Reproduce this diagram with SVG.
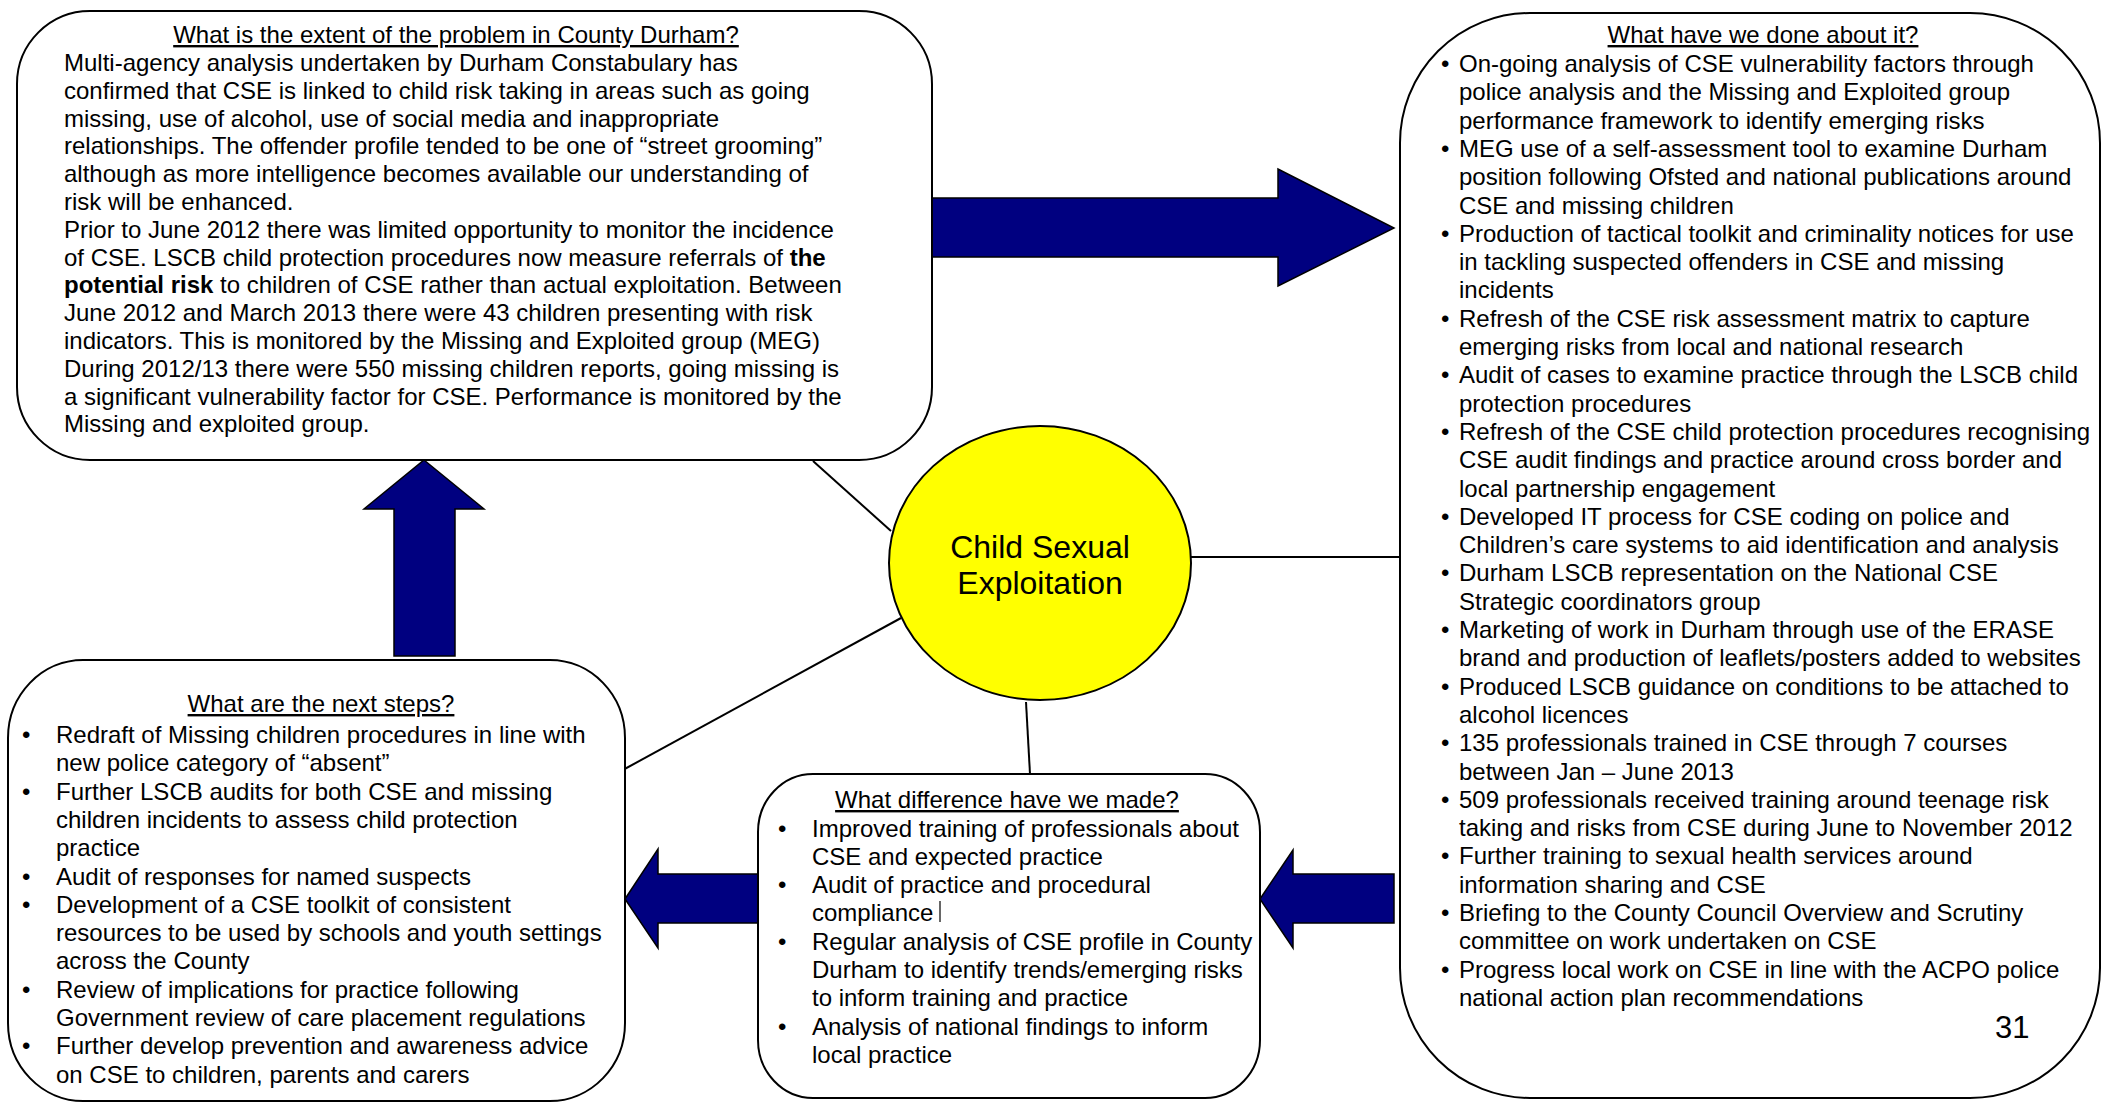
<svg xmlns="http://www.w3.org/2000/svg" width="2102" height="1104" viewBox="0 0 2102 1104">
<style>
  .box { fill: #ffffff; stroke: #000000; stroke-width: 2; }
  .t { font-family: "Liberation Sans", Arial, sans-serif; font-size: 24px; fill: #000000; }
  .h { text-decoration: underline; text-anchor: middle; }
  .arrow { fill: #000080; stroke: #000000; stroke-width: 1.5; stroke-linejoin: miter; }
  .conn { fill: none; stroke: #000000; stroke-width: 2; }
  .b { font-weight: bold; }
</style>
<rect x="0" y="0" width="2102" height="1104" fill="#ffffff"/>

<g id="connectors">
  <line class="conn" x1="813" y1="461" x2="891" y2="531"/>
  <line class="conn" x1="1191" y1="557" x2="1400" y2="557"/>
  <line class="conn" x1="621" y1="771" x2="901" y2="618"/>
  <line class="conn" x1="1026" y1="702" x2="1030" y2="774"/>
  <polygon class="arrow" points="932,198 1278,198 1278,169 1394,228 1278,286 1278,257 932,257"/>
  <polygon class="arrow" points="424,460 484,509 455,509 455,656 394,656 394,509 364,509"/>
  <polygon class="arrow" points="625,899 658,849 658,874 758,874 758,923 658,923 658,948"/>
  <polygon class="arrow" points="1260,899 1293,850 1293,874 1394,874 1394,923 1293,923 1293,948"/>
</g>

<g id="extent">
  <rect class="box" x="17" y="11" width="915" height="449" rx="73" ry="73"/>
  <text class="t h" x="456" y="43">What is the extent of the problem in County Durham?</text>
  <g class="t">
    <text x="64" y="71">Multi-agency analysis undertaken by Durham Constabulary has</text>
    <text x="64" y="98.8">confirmed that CSE is linked to child risk taking in areas such as going</text>
    <text x="64" y="126.6">missing, use of alcohol, use of social media and inappropriate</text>
    <text x="64" y="154.4">relationships. The offender profile tended to be one of “street grooming”</text>
    <text x="64" y="182.2">although as more intelligence becomes available our understanding of</text>
    <text x="64" y="210">risk will be enhanced.</text>
    <text x="64" y="237.8">Prior to June 2012 there was limited opportunity to monitor the incidence</text>
    <text x="64" y="265.6">of CSE. LSCB child protection procedures now measure referrals of <tspan class="b">the</tspan></text>
    <text x="64" y="293.4"><tspan class="b">potential risk</tspan> to children of CSE rather than actual exploitation. Between</text>
    <text x="64" y="321.2">June 2012 and March 2013 there were 43 children presenting with risk</text>
    <text x="64" y="349">indicators. This is monitored by the Missing and Exploited group (MEG)</text>
    <text x="64" y="376.8">During 2012/13 there were 550 missing children reports, going missing is</text>
    <text x="64" y="404.6">a significant vulnerability factor for CSE. Performance is monitored by the</text>
    <text x="64" y="432.4">Missing and exploited group.</text>
  </g>
</g>

<g id="done">
  <rect class="box" x="1400" y="13" width="700" height="1085" rx="130" ry="130"/>
  <text class="t h" x="1763" y="43">What have we done about it?</text>
  <g class="t">
    <text x="1441" y="72">•</text><text x="1459" y="72">On-going analysis of CSE vulnerability factors through</text>
    <text x="1459" y="100.3">police analysis and the Missing and Exploited group</text>
    <text x="1459" y="128.6">performance framework to identify emerging risks</text>
    <text x="1441" y="156.9">•</text><text x="1459" y="156.9">MEG use of a self-assessment tool to examine Durham</text>
    <text x="1459" y="185.2">position following Ofsted and national publications around</text>
    <text x="1459" y="213.5">CSE and missing children</text>
    <text x="1441" y="241.8">•</text><text x="1459" y="241.8">Production of tactical toolkit and criminality notices for use</text>
    <text x="1459" y="270.1">in tackling suspected offenders in CSE and missing</text>
    <text x="1459" y="298.4">incidents</text>
    <text x="1441" y="326.7">•</text><text x="1459" y="326.7">Refresh of the CSE risk assessment matrix to capture</text>
    <text x="1459" y="355">emerging risks from local and national research</text>
    <text x="1441" y="383.3">•</text><text x="1459" y="383.3">Audit of cases to examine practice through the LSCB child</text>
    <text x="1459" y="411.6">protection procedures</text>
    <text x="1441" y="439.9">•</text><text x="1459" y="439.9">Refresh of the CSE child protection procedures recognising</text>
    <text x="1459" y="468.2">CSE audit findings and practice around cross border and</text>
    <text x="1459" y="496.5">local partnership engagement</text>
    <text x="1441" y="524.8">•</text><text x="1459" y="524.8">Developed IT process for CSE coding on police and</text>
    <text x="1459" y="553.1">Children’s care systems to aid identification and analysis</text>
    <text x="1441" y="581.4">•</text><text x="1459" y="581.4">Durham LSCB representation on the National CSE</text>
    <text x="1459" y="609.7">Strategic coordinators group</text>
    <text x="1441" y="638">•</text><text x="1459" y="638">Marketing of work in Durham through use of the ERASE</text>
    <text x="1459" y="666.3">brand and production of leaflets/posters added to websites</text>
    <text x="1441" y="694.6">•</text><text x="1459" y="694.6">Produced LSCB guidance on conditions to be attached to</text>
    <text x="1459" y="722.9">alcohol licences</text>
    <text x="1441" y="751.2">•</text><text x="1459" y="751.2">135 professionals trained in CSE through 7 courses</text>
    <text x="1459" y="779.5">between Jan – June 2013</text>
    <text x="1441" y="807.8">•</text><text x="1459" y="807.8">509 professionals received training around teenage risk</text>
    <text x="1459" y="836.1">taking and risks from CSE during June to November 2012</text>
    <text x="1441" y="864.4">•</text><text x="1459" y="864.4">Further training to sexual health services around</text>
    <text x="1459" y="892.7">information sharing and CSE</text>
    <text x="1441" y="921">•</text><text x="1459" y="921">Briefing to the County Council Overview and Scrutiny</text>
    <text x="1459" y="949.3">committee on work undertaken on CSE</text>
    <text x="1441" y="977.6">•</text><text x="1459" y="977.6">Progress local work on CSE in line with the ACPO police</text>
    <text x="1459" y="1005.9">national action plan recommendations</text>
  </g>
  <text class="t" x="1995" y="1038" style="font-size:31px">31</text>
</g>

<g id="nextsteps">
  <rect class="box" x="8" y="660" width="617" height="441" rx="75" ry="78"/>
  <text class="t h" x="321" y="712">What are the next steps?</text>
  <g class="t">
    <text x="22" y="743">•</text><text x="56" y="743">Redraft of Missing children procedures in line with</text>
    <text x="56" y="771.3">new police category of “absent”</text>
    <text x="22" y="799.6">•</text><text x="56" y="799.6">Further LSCB audits for both CSE and missing</text>
    <text x="56" y="827.9">children incidents to assess child protection</text>
    <text x="56" y="856.2">practice</text>
    <text x="22" y="884.5">•</text><text x="56" y="884.5">Audit of responses for named suspects</text>
    <text x="22" y="912.8">•</text><text x="56" y="912.8">Development of a CSE toolkit of consistent</text>
    <text x="56" y="941.1">resources to be used by schools and youth settings</text>
    <text x="56" y="969.4">across the County</text>
    <text x="22" y="997.7">•</text><text x="56" y="997.7">Review of implications for practice following</text>
    <text x="56" y="1026">Government review of care placement regulations</text>
    <text x="22" y="1054.3">•</text><text x="56" y="1054.3">Further develop prevention and awareness advice</text>
    <text x="56" y="1082.6">on CSE to children, parents and carers</text>
  </g>
</g>

<g id="difference">
  <rect class="box" x="758" y="774" width="502" height="324" rx="55" ry="58"/>
  <text class="t h" x="1007" y="808">What difference have we made?</text>
  <g class="t">
    <text x="778" y="836.5">•</text><text x="812" y="836.5">Improved training of professionals about</text>
    <text x="812" y="864.8">CSE and expected practice</text>
    <text x="778" y="893.1">•</text><text x="812" y="893.1">Audit of practice and procedural</text>
    <text x="812" y="921.4">compliance</text>
    <text x="778" y="949.7">•</text><text x="812" y="949.7">Regular analysis of CSE profile in County</text>
    <text x="812" y="978">Durham to identify trends/emerging risks</text>
    <text x="812" y="1006.3">to inform training and practice</text>
    <text x="778" y="1034.6">•</text><text x="812" y="1034.6">Analysis of national findings to inform</text>
    <text x="812" y="1062.9">local practice</text>
  </g>
  <line x1="940" y1="901" x2="940" y2="922" stroke="#000000" stroke-width="1.2"/>
</g>

<g id="cse">
  <ellipse cx="1040" cy="563" rx="151" ry="137" fill="#ffff00" stroke="#000000" stroke-width="2"/>
  <text class="t" x="1040" y="558" text-anchor="middle" style="font-size:32px">Child Sexual</text>
  <text class="t" x="1040" y="594" text-anchor="middle" style="font-size:32px">Exploitation</text>
</g>
</svg>
